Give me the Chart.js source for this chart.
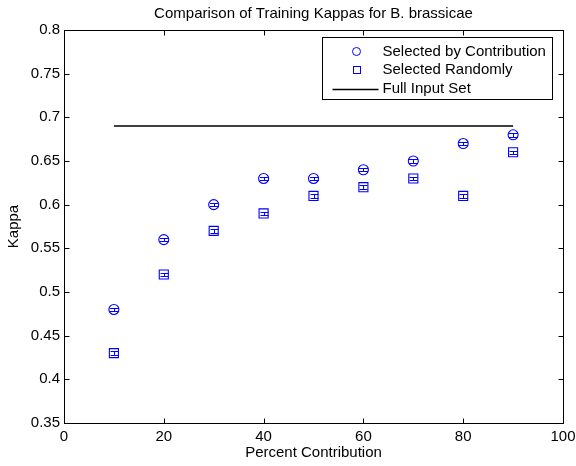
<!DOCTYPE html>
<html>
<head>
<meta charset="utf-8">
<script src="https://cdn.jsdelivr.net/npm/chart.js@4/dist/chart.umd.min.js"></script>
<style>
html,body{margin:0;padding:0;background:#fff;}
canvas{display:block;}
</style>
</head>
<body>
<canvas id="c" width="576" height="466"></canvas>
<script>
// ---- data ----
const percentContribution = [10, 20, 30, 40, 50, 60, 70, 80, 90];
const kappaByContribution = [0.48, 0.56, 0.60, 0.63, 0.63, 0.64, 0.65, 0.67, 0.68];
const kappaRandom = [0.43, 0.52, 0.57, 0.59, 0.61, 0.62, 0.63, 0.61, 0.66];
const errByContribution = [0.002, 0.002, 0.002, 0.002, 0.002, 0.002, 0.002, 0.002, 0.002];
const errRandom = [0.002, 0.002, 0.002, 0.002, 0.002, 0.002, 0.002, 0.002, 0.002];
const fullInputX = [10, 90];
const fullInputKappa = [0.69, 0.69];
const xTicks = [0, 20, 40, 60, 80, 100];
const xTickLabels = ['0', '20', '40', '60', '80', '100'];
const yTicks = [0.35, 0.4, 0.45, 0.5, 0.55, 0.6, 0.65, 0.7, 0.75, 0.8];
const yTickLabels = ['0.35', '0.4', '0.45', '0.5', '0.55', '0.6', '0.65', '0.7', '0.75', '0.8'];
const seriesNames = ['Selected by Contribution', 'Selected Randomly', 'Full Input Set'];
const titleText = 'Comparison of Training Kappas for B. brassicae';
const xTitle = 'Percent Contribution';
const yTitle = 'Kappa';

const FONT = '"Liberation Sans", Arial, Helvetica, sans-serif';
const FS = 15;
const BLUE = 'rgb(0,0,255)';

const toPts = (xs, ys) => xs.map((x, i) => ({x: x, y: ys[i]}));

const errSets = [errByContribution, errRandom];
const capHalf = [4.5, 4];

const matlabFrame = {
  id: 'matlabFrame',
  beforeDraw(chart) {
    const ctx = chart.ctx;
    ctx.save();
    ctx.fillStyle = '#fff';
    ctx.fillRect(0, 0, chart.width, chart.height);
    ctx.restore();
  },
  afterDatasetsDraw(chart) {
    const ctx = chart.ctx;
    const xs = chart.scales.x, ys = chart.scales.y;
    ctx.save();
    ctx.strokeStyle = BLUE;
    ctx.lineWidth = 1;
    [0, 1].forEach(di => {
      const data = chart.data.datasets[di].data;
      data.forEach((p, i) => {
        const e = errSets[di][i];
        const px = Math.round(xs.getPixelForValue(p.x)) + 0.5;
        const y1 = Math.round(ys.getPixelForValue(p.y - e)) + 0.5;
        const y2 = Math.round(ys.getPixelForValue(p.y + e)) + 0.5;
        const cw = capHalf[di];
        ctx.beginPath();
        ctx.moveTo(px, y1); ctx.lineTo(px, y2);
        ctx.moveTo(px - cw, y1); ctx.lineTo(px + cw, y1);
        ctx.moveTo(px - cw, y2); ctx.lineTo(px + cw, y2);
        ctx.stroke();
      });
    });
    ctx.restore();
  },
  afterDraw(chart) {
    const ctx = chart.ctx;
    const a = chart.chartArea;
    const xs = chart.scales.x, ys = chart.scales.y;
    const L = Math.round(a.left) + 0.5, R = Math.round(a.right) + 0.5;
    const T = Math.round(a.top) + 0.5, B = Math.round(a.bottom) + 0.5;
    ctx.save();
    // title centred over the axes
    ctx.fillStyle = '#000';
    ctx.font = FS + 'px ' + FONT;
    ctx.textAlign = 'center';
    ctx.textBaseline = 'middle';
    ctx.fillText(titleText, (a.left + a.right) / 2, 14);

    ctx.strokeStyle = '#000';
    ctx.lineWidth = 1;
    ctx.strokeRect(L, T, R - L, B - T);
    const tl = 5;
    ctx.beginPath();
    xTicks.forEach(v => {
      const px = Math.round(xs.getPixelForValue(v)) + 0.5;
      ctx.moveTo(px, B); ctx.lineTo(px, B - tl);
      ctx.moveTo(px, T); ctx.lineTo(px, T + tl);
    });
    yTicks.forEach(v => {
      const py = Math.round(ys.getPixelForValue(v)) + 0.5;
      ctx.moveTo(L, py); ctx.lineTo(L + tl, py);
      ctx.moveTo(R, py); ctx.lineTo(R - tl, py);
    });
    ctx.stroke();

    // legend
    const bx1 = Math.round(a.right - 241) + 0.5, bx2 = Math.round(a.right - 11) + 0.5;
    const by1 = Math.round(a.top + 7) + 0.5, by2 = Math.round(a.top + 69) + 0.5;
    ctx.fillStyle = '#fff';
    ctx.fillRect(bx1, by1, bx2 - bx1, by2 - by1);
    ctx.strokeStyle = '#000';
    ctx.strokeRect(bx1, by1, bx2 - bx1, by2 - by1);
    const rows = [by1 + 14, by1 + 32.5, by1 + 51];
    const mx = bx1 + 34;
    const tx = bx1 + 60;
    ctx.strokeStyle = BLUE;
    ctx.beginPath();
    ctx.arc(mx, rows[0], 4, 0, Math.PI * 2);
    ctx.stroke();
    ctx.strokeRect(Math.round(mx - 3.5) + 0.5, Math.round(rows[1] - 3.5) - 0.5, 7, 7);
    ctx.strokeStyle = '#000';
    ctx.lineWidth = 1.3;
    ctx.beginPath();
    ctx.moveTo(bx1 + 10, Math.round(rows[2]) + 0.5);
    ctx.lineTo(bx1 + 56, Math.round(rows[2]) + 0.5);
    ctx.stroke();
    ctx.fillStyle = '#000';
    ctx.textBaseline = 'middle';
    ctx.textAlign = 'left';
    seriesNames.forEach((n, i) => ctx.fillText(n, tx, rows[i]));
    ctx.restore();
  }
};

new Chart(document.getElementById('c'), {
  type: 'scatter',
  data: {
    datasets: [
      {
        label: seriesNames[0],
        data: toPts(percentContribution, kappaByContribution),
        pointStyle: 'circle',
        pointRadius: 5,
        pointBorderWidth: 1.1,
        pointBorderColor: BLUE,
        pointBackgroundColor: 'rgba(0,0,0,0)',
        showLine: false
      },
      {
        label: seriesNames[1],
        data: toPts(percentContribution, kappaRandom),
        pointStyle: 'rect',
        pointRadius: 6.4,
        pointBorderWidth: 1.1,
        pointBorderColor: BLUE,
        pointBackgroundColor: 'rgba(0,0,0,0)',
        showLine: false
      },
      {
        label: seriesNames[2],
        data: toPts(fullInputX, fullInputKappa),
        showLine: true,
        borderColor: '#000',
        borderWidth: 1.5,
        pointRadius: 0,
        fill: false
      }
    ]
  },
  options: {
    responsive: false,
    animation: false,
    devicePixelRatio: 1,
    layout: {padding: {left: 0, right: 13, top: 30, bottom: 0}},
    plugins: {
      legend: {display: false},
      tooltip: {enabled: false},
      title: {display: false}
    },
    scales: {
      x: {
        type: 'linear',
        min: 0, max: 100,
        grid: {display: false, drawTicks: false},
        border: {display: false},
        afterBuildTicks: s => { s.ticks = xTicks.map(v => ({value: v})); },
        afterFit: s => { s.height = 43; s.paddingLeft = 0; s.paddingRight = 13; },
        ticks: {
          color: '#000', padding: 5, maxRotation: 0, autoSkip: false,
          font: {family: FONT, size: FS},
          callback: (v, i) => xTickLabels[i]
        },
        title: {
          display: true, text: xTitle, color: '#000',
          font: {family: FONT, size: FS},
          padding: {top: 0, bottom: 4}
        }
      },
      y: {
        type: 'linear',
        min: 0.35, max: 0.8,
        grid: {display: false, drawTicks: false},
        border: {display: false},
        afterBuildTicks: s => { s.ticks = yTicks.map(v => ({value: v})); },
        afterFit: s => { s.width = 64; s.paddingTop = 0; s.paddingBottom = 0; },
        ticks: {
          color: '#000', padding: 4, autoSkip: false,
          font: {family: FONT, size: FS},
          callback: (v, i) => yTickLabels[i]
        },
        title: {
          display: true, text: yTitle, color: '#000',
          font: {family: FONT, size: FS},
          padding: {top: 5, bottom: 0}
        }
      }
    }
  },
  plugins: [matlabFrame]
});
</script>
</body>
</html>
